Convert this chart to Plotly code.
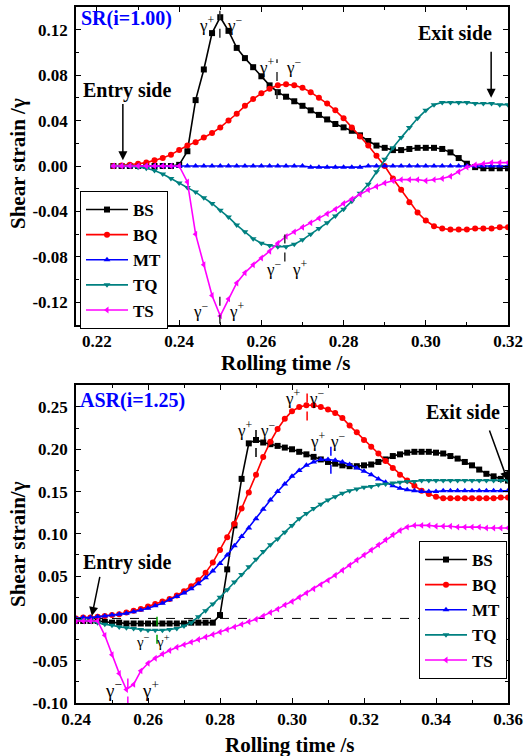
import plotly.graph_objects as go

# ---------------- data: SR (i=1.00) ----------------
t_sr = [0.224, 0.226, 0.228, 0.230, 0.232, 0.234, 0.236, 0.238, 0.240, 0.242,
        0.244, 0.246, 0.248, 0.250, 0.252, 0.254, 0.256, 0.258, 0.260, 0.262,
        0.264, 0.266, 0.268, 0.270, 0.272, 0.274, 0.276, 0.278, 0.280, 0.282,
        0.284, 0.286, 0.288, 0.290, 0.292, 0.294, 0.296, 0.298, 0.300, 0.302,
        0.304, 0.306, 0.308, 0.310, 0.312, 0.314, 0.316, 0.318, 0.320]
bs_sr = [0, 0, 0, 0, 0, 0, 0, 0, 0.001, 0.013,
         0.058, 0.085, 0.117, 0.131, 0.119, 0.104, 0.095, 0.087, 0.079, 0.071,
         0.065, 0.061, 0.057, 0.053, 0.049, 0.045, 0.041, 0.037, 0.034, 0.031,
         0.027, 0.022, 0.018, 0.016, 0.014, 0.014, 0.015, 0.016, 0.016, 0.016,
         0.015, 0.012, 0.007, 0.002, -0.001, -0.002, -0.002, -0.002, -0.002]
bq_sr = [0, 0.0005, 0.001, 0.002, 0.003, 0.005, 0.007, 0.010, 0.014, 0.018,
         0.021, 0.025, 0.029, 0.034, 0.040, 0.046, 0.053, 0.059, 0.064, 0.068,
         0.071, 0.072, 0.071, 0.069, 0.065, 0.060, 0.055, 0.049, 0.042, 0.034,
         0.026, 0.018, 0.009, 0.000, -0.011, -0.021, -0.032, -0.041, -0.048, -0.053,
         -0.055, -0.056, -0.056, -0.056, -0.055, -0.055, -0.055, -0.054, -0.054]
mt_sr = [0, 0, 0, 0, 0, 0, 0, 0, 0, 0,
         0, 0, 0, 0, 0, 0, 0, 0, 0, 0,
         0, 0, 0, 0, -0.001, -0.001, -0.001, -0.001, -0.001, -0.001,
         -0.001, 0, 0, 0, 0, 0, 0, 0, 0, 0,
         0, 0, 0, 0, 0, 0, 0, 0, 0]
tq_sr = [0, 0, 0, -0.001, -0.002, -0.004, -0.007, -0.011, -0.015, -0.019,
         -0.023, -0.028, -0.033, -0.039, -0.045, -0.052, -0.058, -0.064, -0.068, -0.070,
         -0.071, -0.071, -0.069, -0.065, -0.060, -0.055, -0.050, -0.044, -0.038, -0.031,
         -0.024, -0.016, -0.005, 0.006, 0.016, 0.025, 0.034, 0.042, 0.049, 0.054,
         0.056, 0.056, 0.056, 0.056, 0.055, 0.055, 0.055, 0.054, 0.054]
ts_sr = [0, 0, 0, 0, 0, 0, 0, 0, 0, -0.014,
         -0.060, -0.087, -0.114, -0.132, -0.117, -0.103, -0.094, -0.087, -0.081, -0.075,
         -0.068, -0.062, -0.058, -0.054, -0.050, -0.046, -0.042, -0.038, -0.033, -0.029,
         -0.025, -0.021, -0.018, -0.015, -0.013, -0.012, -0.012, -0.012, -0.013, -0.012,
         -0.011, -0.009, -0.005, -0.001, 0.001, 0.002, 0.003, 0.003, 0.003]

# ---------------- data: ASR (i=1.25) ----------------
t_asr = [0.240, 0.242, 0.244, 0.246, 0.248, 0.250, 0.252, 0.254, 0.256, 0.258,
         0.260, 0.262, 0.264, 0.266, 0.268, 0.270, 0.272, 0.274, 0.276, 0.278,
         0.280, 0.282, 0.284, 0.286, 0.288, 0.290, 0.292, 0.294, 0.296, 0.298,
         0.300, 0.302, 0.304, 0.306, 0.308, 0.310, 0.312, 0.314, 0.316, 0.318,
         0.320, 0.322, 0.324, 0.326, 0.328, 0.330, 0.332, 0.334, 0.336, 0.338,
         0.340, 0.342, 0.344, 0.346, 0.348, 0.350, 0.352, 0.354, 0.356, 0.358, 0.360]
bs_asr = [-0.003, -0.003, -0.003, -0.003, -0.004, -0.005, -0.005, -0.006, -0.006, -0.006,
          -0.006, -0.006, -0.006, -0.006, -0.006, -0.006, -0.005, -0.005, -0.005, -0.005,
          0.004, 0.058, 0.110, 0.165, 0.207, 0.211, 0.208, 0.206, 0.204, 0.202,
          0.200, 0.197, 0.194, 0.191, 0.188, 0.185, 0.183, 0.181, 0.180, 0.180,
          0.181, 0.182, 0.185, 0.188, 0.192, 0.194, 0.196, 0.197, 0.197, 0.197,
          0.196, 0.195, 0.192, 0.189, 0.185, 0.181, 0.176, 0.171, 0.168, 0.165, 0.163]
bq_asr = [0.000, 0.001, 0.001, 0.002, 0.003, 0.004, 0.005, 0.007, 0.009, 0.011,
          0.014, 0.017, 0.020, 0.023, 0.027, 0.032, 0.038, 0.045, 0.054, 0.066,
          0.081, 0.096, 0.112, 0.130, 0.149, 0.170, 0.191, 0.209, 0.224, 0.236,
          0.245, 0.250, 0.252, 0.252, 0.250, 0.247, 0.243, 0.237, 0.228, 0.220,
          0.211, 0.203, 0.195, 0.186, 0.178, 0.170, 0.163, 0.157, 0.151, 0.147,
          0.144, 0.142, 0.142, 0.142, 0.142, 0.142, 0.142, 0.142, 0.142, 0.143, 0.143]
mt_asr = [0.000, 0.001, 0.001, 0.002, 0.003, 0.004, 0.005, 0.006, 0.008, 0.010,
          0.012, 0.015, 0.018, 0.022, 0.026, 0.030, 0.035, 0.041, 0.048, 0.056,
          0.065, 0.075, 0.086, 0.097, 0.107, 0.118, 0.129, 0.140, 0.150, 0.159,
          0.168, 0.175, 0.181, 0.185, 0.188, 0.188, 0.187, 0.185, 0.182, 0.178,
          0.174, 0.170, 0.165, 0.161, 0.157, 0.154, 0.152, 0.151, 0.150, 0.150,
          0.150, 0.151, 0.151, 0.151, 0.151, 0.151, 0.151, 0.151, 0.151, 0.151, 0.151]
tq_asr = [-0.001, -0.002, -0.003, -0.005, -0.007, -0.008, -0.010, -0.011, -0.012, -0.013,
          -0.014, -0.014, -0.014, -0.013, -0.012, -0.009, -0.005, 0.002, 0.009, 0.017,
          0.025, 0.034, 0.043, 0.052, 0.061, 0.070, 0.079, 0.087, 0.094, 0.102,
          0.110, 0.118, 0.124, 0.130, 0.135, 0.140, 0.144, 0.148, 0.151, 0.153,
          0.155, 0.156, 0.158, 0.159, 0.160, 0.161, 0.162, 0.162, 0.163, 0.163,
          0.163, 0.163, 0.163, 0.163, 0.163, 0.163, 0.163, 0.163, 0.163, 0.163, 0.163]
ts_asr = [-0.003, -0.003, -0.003, -0.003, -0.020, -0.043, -0.065, -0.084, -0.078, -0.062,
          -0.053, -0.047, -0.042, -0.038, -0.034, -0.031, -0.028, -0.025, -0.022, -0.019,
          -0.016, -0.013, -0.010, -0.007, -0.004, -0.001, 0.003, 0.007, 0.011, 0.016,
          0.020, 0.025, 0.030, 0.035, 0.040, 0.045, 0.051, 0.057, 0.063, 0.069,
          0.075, 0.081, 0.087, 0.093, 0.099, 0.104, 0.108, 0.110, 0.110, 0.110,
          0.109, 0.109, 0.109, 0.108, 0.108, 0.108, 0.108, 0.107, 0.107, 0.107, 0.107]

series_names = ["BS", "BQ", "MT", "TQ", "TS"]
series_colors = ["#000000", "#ff0000", "#0000ff", "#008080", "#ff00ff"]
series_symbols = ["square", "circle", "triangle-up", "triangle-down", "triangle-left"]

# tick labels
x1_ticks = [0.22, 0.24, 0.26, 0.28, 0.30, 0.32]
x1_text = ["0.22", "0.24", "0.26", "0.28", "0.30", "0.32"]
y1_ticks = [-0.12, -0.08, -0.04, 0.0, 0.04, 0.08, 0.12]
y1_text = ["-0.12", "-0.08", "-0.04", "0.00", "0.04", "0.08", "0.12"]
x2_ticks = [0.24, 0.26, 0.28, 0.30, 0.32, 0.34, 0.36]
x2_text = ["0.24", "0.26", "0.28", "0.30", "0.32", "0.34", "0.36"]
y2_ticks = [-0.10, -0.05, 0.0, 0.05, 0.10, 0.15, 0.20, 0.25]
y2_text = ["-0.10", "-0.05", "0.00", "0.05", "0.10", "0.15", "0.20", "0.25"]

for arr in [bs_sr, bq_sr, mt_sr, tq_sr, ts_sr]:
    assert len(arr) == len(t_sr), len(arr)
for arr in [bs_asr, bq_asr, mt_asr, tq_asr, ts_asr]:
    assert len(arr) == len(t_asr), len(arr)

FONT = "Liberation Serif"
W, H = 528, 756

fig = go.Figure()

sr_sets = [bs_sr, bq_sr, mt_sr, tq_sr, ts_sr]
asr_sets = [bs_asr, bq_asr, mt_asr, tq_asr, ts_asr]
for name, col, sym, ys in zip(series_names, series_colors, series_symbols, sr_sets):
    fig.add_trace(go.Scatter(x=t_sr, y=ys, name=name, mode="lines+markers",
                             line=dict(color=col, width=1.6),
                             marker=dict(symbol=sym, size=6, color=col),
                             xaxis="x", yaxis="y", legend="legend"))
for name, col, sym, ys in zip(series_names, series_colors, series_symbols, asr_sets):
    fig.add_trace(go.Scatter(x=t_asr, y=ys, name=name, mode="lines+markers",
                             line=dict(color=col, width=1.6),
                             marker=dict(symbol=sym, size=6, color=col),
                             xaxis="x2", yaxis="y2", legend="legend2"))

def px_x(p):
    return p / W

def px_y(p):
    return 1 - p / H

axis_common = dict(showline=True, linecolor="black", linewidth=1.5, mirror="allticks",
                   ticks="inside", ticklen=5, tickwidth=1.2, tickcolor="black",
                   showgrid=False, zeroline=False, automargin=False)

x_dom = [px_x(76), px_x(508)]
fig.update_layout(
    template="none",
    width=W, height=H, margin=dict(l=0, r=0, t=0, b=0, pad=0, autoexpand=False),
    paper_bgcolor="white", plot_bgcolor="white",
    font=dict(family=FONT, color="black"),
    xaxis=dict(domain=x_dom, anchor="y", range=[0.2149, 0.32],
               tickvals=x1_ticks, ticktext=x1_text,
               tickfont=dict(family=FONT, size=17, weight="bold"),
               minor=dict(ticks="inside", ticklen=3, dtick=0.01, tick0=0.0, tickcolor="black"),
               **axis_common),
    yaxis=dict(domain=[px_y(325), px_y(7)], anchor="x", range=[-0.14, 0.14],
               tickvals=y1_ticks, ticktext=y1_text,
               tickfont=dict(family=FONT, size=17, weight="bold"),
               minor=dict(ticks="inside", ticklen=3, dtick=0.02, tick0=0.0, tickcolor="black"),
               ticklabelstandoff=3,
               **axis_common),
    xaxis2=dict(domain=x_dom, anchor="y2", range=[0.24, 0.36],
                tickvals=x2_ticks, ticktext=x2_text,
                tickfont=dict(family=FONT, size=17, weight="bold"),
                minor=dict(ticks="inside", ticklen=3, dtick=0.01, tick0=0.0, tickcolor="black"),
                **axis_common),
    yaxis2=dict(domain=[px_y(703), px_y(385)], anchor="x2", range=[-0.10, 0.276],
                tickvals=y2_ticks, ticktext=y2_text,
                tickfont=dict(family=FONT, size=17, weight="bold"),
                minor=dict(ticks="inside", ticklen=3, dtick=0.025, tick0=0.0, tickcolor="black"),
                ticklabelstandoff=3,
                **axis_common),
    legend=dict(x=px_x(80), y=px_y(191), xanchor="left", yanchor="top",
                bgcolor="white", bordercolor="black", borderwidth=1,
                font=dict(family=FONT, size=17, weight="bold"), itemwidth=42,
                tracegroupgap=0),
    legend2=dict(x=px_x(507), y=px_y(541), xanchor="right", yanchor="top",
                 bgcolor="white", bordercolor="black", borderwidth=1,
                 font=dict(family=FONT, size=17, weight="bold"), itemwidth=42,
                 tracegroupgap=0),
    showlegend=True,
)

ann = []
shapes = []

def text_paper(txt, x, y, size=20, color="black", xanchor="center", bold=True, angle=0):
    ann.append(dict(text=txt, x=x, y=y, xref="paper", yref="paper", showarrow=False,
                    xanchor=xanchor, yanchor="middle", textangle=angle,
                    font=dict(family=FONT, size=size, color=color,
                              weight="bold" if bold else "normal")))

# axis titles
text_paper("Rolling time /s", px_x(286), px_y(363), size=21)
text_paper("Rolling time /s", px_x(290), px_y(745), size=21)
text_paper("Shear strain /γ", px_x(18), px_y(164), size=21, angle=-90)
text_paper("Shear strain/γ", px_x(18), px_y(544), size=21, angle=-90)

# case labels
text_paper("SR(i=1.00)", px_x(79), px_y(18), size=20, color="#0000ff", xanchor="left")
text_paper("ASR(i=1.25)", px_x(78), px_y(400), size=20, color="#0000ff", xanchor="left")
text_paper("Entry side", px_x(81), px_y(90), size=20, xanchor="left")
text_paper("Exit side", px_x(455), px_y(33), size=20)
text_paper("Entry side", px_x(81), px_y(562), size=20, xanchor="left")
text_paper("Exit side", px_x(463), px_y(412), size=20)

def arrow(xr, yr, x, y, ax, ay):
    ann.append(dict(text="", x=x, y=y, ax=ax, ay=ay, xref=xr, yref=yr,
                    axref=xr, ayref=yr, showarrow=True, arrowhead=2, arrowsize=1.2,
                    arrowwidth=1.5, arrowcolor="black"))

arrow("x", "y", 0.2263, 0.005, 0.2263, 0.056)
arrow("x", "y", 0.3159, 0.060, 0.3159, 0.102)
arrow("x2", "y2", 0.2444, 0.003, 0.2467, 0.051)
arrow("x2", "y2", 0.3599, 0.163, 0.3547, 0.224)

# gamma markers: (xref, yref, t, y0, y1, color, left, right, xl, xr, ylab, size)
gp = "γ<sup>+</sup>"
gm = "γ<sup>−</sup>"
gamma_marks = [
    ("x", "y", 0.2499, 0.113, 0.139, "#333333", gp, gm, 0.2468, 0.2536, 0.125, 17),
    ("x", "y", 0.2638, 0.059, 0.094, "#333333", gp, gm, 0.2614, 0.2680, 0.088, 17),
    ("x", "y", 0.2657, -0.084, -0.055, "#333333", gm, gp, 0.2630, 0.2694, -0.090, 17),
    ("x", "y", 0.2499, -0.139, -0.109, "#333333", gm, gp, 0.2453, 0.2541, -0.127, 17),
    ("x2", "y2", 0.2900, 0.191, 0.228, "#000000", gp, gm, 0.2869, 0.2933, 0.224, 17),
    ("x2", "y2", 0.3042, 0.234, 0.270, "#ff0000", gp, gm, 0.3003, 0.3069, 0.262, 17),
    ("x2", "y2", 0.3108, 0.171, 0.205, "#0000ff", gp, gm, 0.3073, 0.3127, 0.211, 17),
    ("x2", "y2", 0.2625, -0.030, 0.004, "#00a000", gm, gp, 0.2585, 0.2641, -0.027, 15),
    ("x2", "y2", 0.2544, -0.103, -0.071, "#ff00ff", gm, gp, 0.2503, 0.2608, -0.084, 19),
]
for xr, yr, t, y0, y1, col, l, r, xl, xrr, yl, sz in gamma_marks:
    shapes.append(dict(type="line", xref=xr, yref=yr, x0=t, x1=t, y0=y0, y1=y1,
                       line=dict(color=col, width=1.5, dash="dash")))
    for txt, xx in ((l, xl), (r, xrr)):
        ann.append(dict(text=txt, x=xx, y=yl, xref=xr, yref=yr, showarrow=False,
                        xanchor="center", yanchor="middle",
                        font=dict(family=FONT, size=sz, color="black")))

# zero reference line in ASR panel
shapes.append(dict(type="line", xref="x2", yref="y2", x0=0.24, x1=0.3397, y0=0, y1=0,
                   line=dict(color="black", width=1, dash="dash"), layer="below"))

fig.update_layout(annotations=ann, shapes=shapes)
fig.write_html("out.html")
